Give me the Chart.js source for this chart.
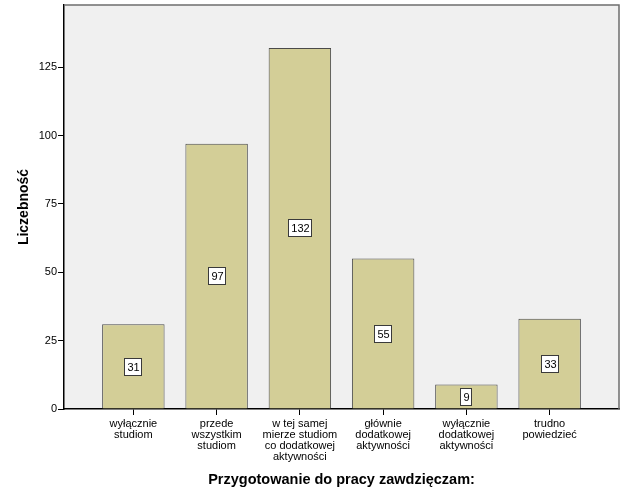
<!DOCTYPE html>
<html>
<head>
<meta charset="utf-8">
<script src="https://cdn.jsdelivr.net/npm/chart.js@4.4.0/dist/chart.umd.min.js"></script>
<style>
  html, body { margin: 0; padding: 0; background: #fff; }
  #wrap { width: 626px; height: 501px; position: relative; }
</style>
</head>
<body>
<div id="wrap"><canvas id="chart" width="626" height="501"></canvas></div>
<script>
const categories = [
  ['wyłącznie', 'studiom'],
  ['przede', 'wszystkim', 'studiom'],
  ['w tej samej', 'mierze studiom', 'co dodatkowej', 'aktywności'],
  ['głównie', 'dodatkowej', 'aktywności'],
  ['wyłącznie', 'dodatkowej', 'aktywności'],
  ['trudno', 'powiedzieć']
];
const counts = [31, 97, 132, 55, 9, 33];
const yTicks = [0, 25, 50, 75, 100, 125];

const FONT = '"Liberation Sans", Arial, sans-serif';

// tło i ramka obszaru wykresu
const plotFrame = {
  id: 'plotFrame',
  beforeDraw(chart) {
    const { ctx, chartArea: a } = chart;
    ctx.save();
    ctx.fillStyle = '#f0f0f0';
    ctx.fillRect(a.left, a.top, a.right - a.left, a.bottom - a.top);
    ctx.restore();
  },
  afterDraw(chart) {
    const { ctx, chartArea: a } = chart;
    ctx.save();
    ctx.strokeStyle = '#6e6e6e';
    ctx.lineWidth = 1.5;
    ctx.beginPath();
    ctx.moveTo(a.left, a.top);
    ctx.lineTo(a.right, a.top);
    ctx.lineTo(a.right, a.bottom);
    ctx.stroke();
    ctx.restore();
  }
};

// etykiety wartości w środku słupków
const valueBoxes = {
  id: 'valueBoxes',
  afterDatasetsDraw(chart) {
    const { ctx } = chart;
    const meta = chart.getDatasetMeta(0);
    const yScale = chart.scales.y;
    ctx.save();
    ctx.font = '11px ' + FONT;
    ctx.textAlign = 'center';
    ctx.textBaseline = 'middle';
    meta.data.forEach((bar, i) => {
      const v = counts[i];
      const cy = Math.round(yScale.getPixelForValue(v / 2));
      const cx = Math.round(bar.x);
      const txt = String(v);
      const w = Math.round(ctx.measureText(txt).width) + 5;
      const h = 17;
      const x0 = cx - Math.round(w / 2), y0 = cy - Math.round(h / 2);
      ctx.fillStyle = '#ffffff';
      ctx.fillRect(x0, y0, w, h);
      ctx.strokeStyle = '#3a3a3a';
      ctx.lineWidth = 1;
      ctx.strokeRect(x0 + 0.5, y0 + 0.5, w, h);
      ctx.fillStyle = '#000';
      ctx.fillText(txt, cx + 0.5, cy + 1);
    });
    ctx.restore();
  }
};

new Chart(document.getElementById('chart'), {
  type: 'bar',
  data: {
    datasets: [{
      data: counts.map((v, i) => ({ x: i, y: v })),
      backgroundColor: '#d3ce97',
      borderColor: '#4a4a4a',
      borderWidth: 1,
      borderSkipped: 'bottom',
      barPercentage: 0.75,
      categoryPercentage: 1
    }]
  },
  options: {
    responsive: false,
    animation: false,
    layout: { padding: { left: 0, right: 7, top: 5, bottom: 0 } },
    plugins: {
      legend: { display: false },
      tooltip: { enabled: false }
    },
    scales: {
      x: {
        type: 'linear',
        offset: false,
        min: -0.833,
        max: 5.833,
        afterFit: s => { s.height = 92; s.paddingLeft = 0; s.paddingRight = 0; },
        afterBuildTicks: s => { s.ticks = categories.map((c, i) => ({ value: i })); },
        ticks: {
          includeBounds: false,
          autoSkip: false,
          maxRotation: 0,
          color: '#000',
          padding: 3,
          font: { family: FONT, size: 11, lineHeight: 1.0 },
          callback: (v) => categories[v] || ''
        },
        grid: {
          display: true,
          offset: false,
          drawOnChartArea: false,
          drawTicks: true,
          tickLength: 6,
          color: '#000',
          lineWidth: 1
        },
        border: { display: true, color: '#000', width: 1.5 },
        title: {
          display: true,
          text: 'Przygotowanie do pracy zawdzięczam:',
          color: '#000',
          font: { family: FONT, size: 14.5, weight: 'bold' },
          padding: { top: 0, bottom: 12 }
        }
      },
      y: {
        min: 0,
        max: 147.7,
        afterFit: s => { s.width = 64; s.paddingTop = 0; s.paddingBottom = 0; },
        afterBuildTicks: s => { s.ticks = yTicks.map(v => ({ value: v })); },
        ticks: {
          color: '#000',
          padding: 1,
          font: { family: FONT, size: 11 }
        },
        grid: {
          display: true,
          drawOnChartArea: false,
          drawTicks: true,
          tickLength: 6,
          color: '#000',
          lineWidth: 1
        },
        border: { display: true, color: '#000', width: 1.5 },
        title: {
          display: true,
          text: 'Liczebność',
          color: '#000',
          font: { family: FONT, size: 14, weight: 'bold' },
          padding: { top: 16, bottom: 0 }
        }
      }
    }
  },
  plugins: [plotFrame, valueBoxes]
});
</script>
</body>
</html>
